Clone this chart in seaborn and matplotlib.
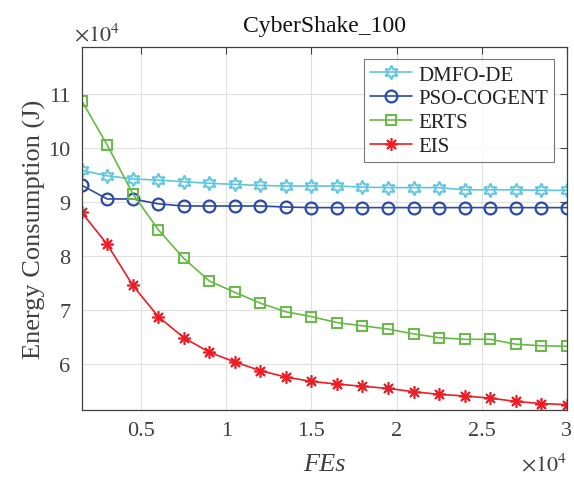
import numpy as np
import pandas as pd
import seaborn as sns
import matplotlib
matplotlib.use("Agg")
import matplotlib.pyplot as plt
from matplotlib.ticker import FuncFormatter, FixedLocator

# ---- data ----
fes = [1500, 3000, 4500, 6000, 7500, 9000, 10500, 12000, 13500, 15000,
       16500, 18000, 19500, 21000, 22500, 24000, 25500, 27000, 28500, 30000]
dmfo_de = [95900, 94900, 94300, 94100, 93800, 93500, 93300, 93100, 93000, 93000,
           93000, 92800, 92700, 92700, 92700, 92300, 92300, 92300, 92200, 92200]
pso_cogent = [93150, 90600, 90600, 89700, 89300, 89300, 89300, 89300, 89100, 89000,
              89000, 89000, 89000, 89000, 89000, 89000, 89000, 89000, 89000, 89000]
erts = [108800, 100600, 91600, 84900, 79600, 75400, 73300, 71300, 69700, 68800,
        67700, 67100, 66500, 65600, 64900, 64600, 64600, 63700, 63400, 63300]
eis = [88100, 82200, 74600, 68800, 64900, 62200, 60400, 58800, 57600, 56800,
       56300, 55900, 55500, 54900, 54400, 54100, 53700, 53100, 52700, 52500]
series_names = ["DMFO-DE", "PSO-COGENT", "ERTS", "EIS"]
x_ticks = [5000, 10000, 15000, 20000, 25000, 30000]
y_ticks = [60000, 70000, 80000, 90000, 100000, 110000]

sns.set_style("white")
plt.rcParams["font.family"] = ["Liberation Serif", "DejaVu Serif"]
plt.rcParams["mathtext.fontset"] = "stix"

fig = plt.figure(figsize=(5.74, 4.81), dpi=100)
ax = fig.add_axes([0.1423, 0.1455, 0.8450, 0.7541])

styles = {
    "DMFO-DE": dict(color="#5EC6DE", marker=(6, 1, 0), ms=10, mfc="none", mew=1.4),
    "PSO-COGENT": dict(color="#2A4AA6", marker="o", ms=8.5, mfc="none", mew=1.6),
    "ERTS": dict(color="#66BB44", marker="s", ms=7, mfc="none", mew=1.4),
    "EIS": dict(color="#EE1C25", marker=(8, 2, 0), ms=9, mfc="none", mew=1.2),
}
data = [dmfo_de, pso_cogent, erts, eis]
for name, vals in zip(series_names, data):
    st = styles[name]
    sns.lineplot(x=fes, y=vals, ax=ax, label=name, color=st["color"], lw=1.2,
                 marker=st["marker"], markersize=st["ms"], markerfacecolor=st["mfc"],
                 markeredgecolor=st["color"], markeredgewidth=st["mew"])

ax.set_xlim(1500, 30000)
ax.set_ylim(51500, 118700)
ax.xaxis.set_major_locator(FixedLocator(x_ticks))
ax.yaxis.set_major_locator(FixedLocator(y_ticks))
ax.xaxis.set_major_formatter(FuncFormatter(lambda v, p: "%g" % (v / 1e4)))
ax.yaxis.set_major_formatter(FuncFormatter(lambda v, p: "%g" % (v / 1e4)))

tick_col = "#404040"
ax.tick_params(axis="both", which="major", direction="in", length=5, width=0.8,
               labelsize=16, colors=tick_col, top=True, right=True, pad=8)
for sp in ax.spines.values():
    sp.set_color(tick_col)
    sp.set_linewidth(0.9)
ax.grid(True, color="#E0E0E0", lw=0.8)
ax.set_axisbelow(True)

ax.set_xlabel("FEs", fontsize=19, style="italic", color=tick_col, labelpad=9)
ax.set_ylabel("Energy Consumption (J)", fontsize=19, color=tick_col, labelpad=2)
ax.set_title("CyberShake_100", fontsize=17, color="#111111", pad=12)

ax.text(-0.016, 1.004, r"$\times10^{4}$", transform=ax.transAxes, fontsize=16,
        color=tick_col, ha="left", va="bottom")
ax.text(1.0, -0.118, r"$\times10^{4}$", transform=ax.transAxes, fontsize=16,
        color=tick_col, ha="right", va="top")

leg = ax.legend(loc="upper right", bbox_to_anchor=(0.974, 0.968), borderaxespad=0,
                fontsize=15, frameon=True, fancybox=False, handlelength=2.0,
                handletextpad=0.3, labelspacing=0.2, borderpad=0.3)
leg.get_frame().set_edgecolor("#555555")
leg.get_frame().set_linewidth(0.8)
for t in leg.get_texts():
    t.set_color("#222222")

fig.savefig("out.png", dpi=100)
